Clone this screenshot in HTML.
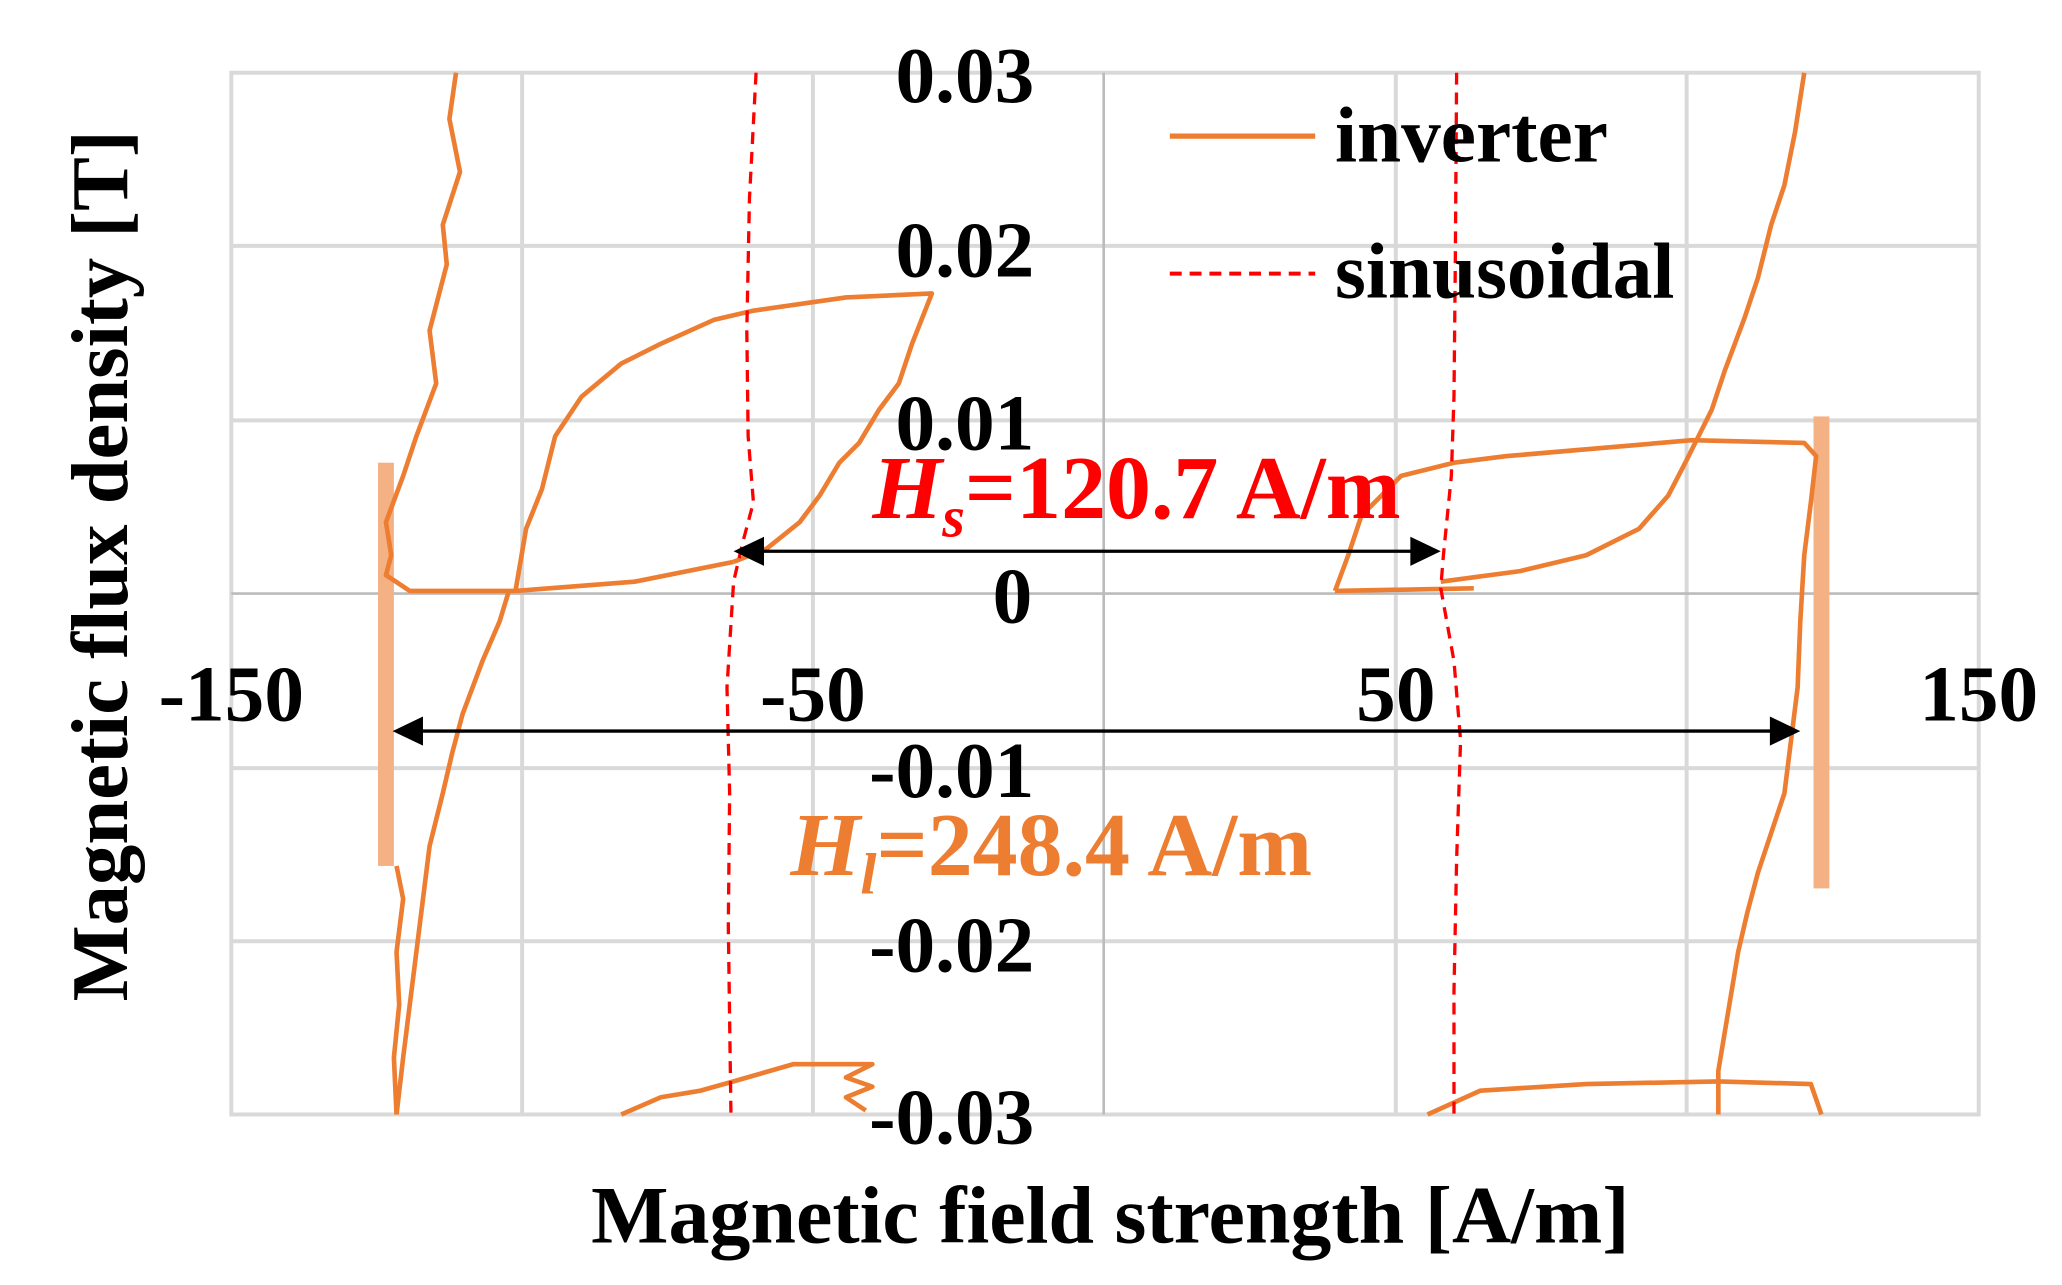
<!DOCTYPE html>
<html><head><meta charset="utf-8"><style>html,body{margin:0;padding:0;background:#fff;width:2062px;height:1285px;overflow:hidden}</style></head>
<body>
<svg width="2062" height="1285" viewBox="0 0 1560 972" preserveAspectRatio="none" xmlns="http://www.w3.org/2000/svg" font-family="'Liberation Serif', serif" font-weight="bold">
<rect width="1560" height="972" fill="#fff"/>
<g stroke="#d9d9d9" stroke-width="3" fill="none">
<rect x="175" y="55" width="1322" height="788"/>
<line x1="395" y1="55" x2="395" y2="843"/><line x1="615" y1="55" x2="615" y2="843"/>
<line x1="1056" y1="55" x2="1056" y2="843"/><line x1="1276" y1="55" x2="1276" y2="843"/>
<line x1="175" y1="186" x2="1497" y2="186"/><line x1="175" y1="318" x2="1497" y2="318"/>
<line x1="175" y1="581" x2="1497" y2="581"/><line x1="175" y1="712" x2="1497" y2="712"/>
</g>
<line x1="835" y1="55" x2="835" y2="843" stroke="#bbb" stroke-width="2"/>
<line x1="175" y1="449" x2="1497" y2="449" stroke="#bbb" stroke-width="2"/>
<rect x="286" y="350" width="12" height="305" fill="#f4b183"/>
<rect x="1372" y="315" width="12" height="357" fill="#f4b183"/>
<g stroke="#ed7d31" stroke-width="3.5" fill="none" stroke-linejoin="round">
<polyline points="345,55 340,90 348,130 335,170 338,200 325,250 330,290 315,330 305,360 292,395 296,420 292,435 310,447 390,447 480,440 555,425"/>
<polyline points="390,447 398,400 410,370 420,330 440,300 470,275 500,260 540,242 570,235 640,225 705,222 690,260 680,290 665,310 650,335 635,350 620,375 605,395 580,415 555,425"/>
<polyline points="385,447 378,470 365,500 350,540 342,570 335,600 325,640 320,680 315,720 310,760 305,800 300,843"/>
<polyline points="300,843 298,800 302,760 300,720 305,680 300,655"/>
<polyline points="1365,55 1358,100 1350,140 1340,170 1330,210 1320,240 1305,280 1295,310 1285,330 1275,350 1262,375 1240,400 1200,420 1150,432 1090,440"/>
<polyline points="1010,447 1020,420 1030,390 1060,360 1100,350 1140,345 1280,333 1365,335 1374,345 1370,380 1365,420 1362,470 1360,520 1355,560 1350,600 1340,630 1330,660 1322,690 1315,720 1310,750 1305,780 1300,810 1300,843"/>
<polyline points="1010,447 1115,445"/>
<polyline points="470,843 500,830 530,825 555,818 600,805 660,805 640,815 660,822 640,830 655,840"/>
<polyline points="1080,843 1120,825 1200,820 1300,818 1370,820 1378,843"/>
</g>
<g stroke="#ff0000" stroke-width="2.5" fill="none" stroke-dasharray="9,6">
<polyline points="572,55 567,150 565,250 566,330 570,380 562,410 555,440 550,520 552,600 551,700 553,843"/>
<polyline points="1102,55 1101,200 1100,300 1098,360 1092,420 1090,445 1100,500 1105,560 1102,650 1100,750 1100,843"/>
</g>
<g stroke="#000" stroke-width="2.5" fill="#000">
<line x1="570" y1="417" x2="1075" y2="417"/>
<polygon points="555,417 578,406 578,428" stroke="none"/>
<polygon points="1090,417 1067,406 1067,428" stroke="none"/>
<line x1="312" y1="553" x2="1348" y2="553"/>
<polygon points="297,553 320,542 320,564" stroke="none"/>
<polygon points="1362,553 1339,542 1339,564" stroke="none"/>
</g>
<g font-size="60" fill="#000" text-anchor="middle">
<text x="730" y="77">0.03</text><text x="730" y="209">0.02</text><text x="730" y="340">0.01</text>
<text x="766" y="471">0</text><text x="720" y="603">-0.01</text><text x="720" y="735">-0.02</text><text x="720" y="865">-0.03</text>
<text x="175" y="545">-150</text><text x="615" y="545">-50</text><text x="1056" y="545">50</text><text x="1497" y="545">150</text>
</g>
<text x="660" y="392" font-size="68" fill="#ff0000"><tspan font-style="italic">H</tspan><tspan font-style="italic" font-size="44" dy="14">s</tspan><tspan dy="-14">=120.7 A/m</tspan></text>
<text x="598" y="662" font-size="68" fill="#ed7d31"><tspan font-style="italic">H</tspan><tspan font-style="italic" font-size="44" dy="14">l</tspan><tspan dy="-14">=248.4 A/m</tspan></text>
<line x1="885" y1="103" x2="995" y2="103" stroke="#ed7d31" stroke-width="4"/>
<text x="1010" y="122" font-size="60">inverter</text>
<line x1="885" y1="207" x2="995" y2="207" stroke="#ff0000" stroke-width="3" stroke-dasharray="9,6"/>
<text x="1010" y="225" font-size="60">sinusoidal</text>
<text x="840" y="940" font-size="62" text-anchor="middle">Magnetic field strength [A/m]</text>
<text transform="translate(96,428) rotate(-90)" font-size="61" text-anchor="middle">Magnetic flux density [T]</text>
</svg>
</body></html>
